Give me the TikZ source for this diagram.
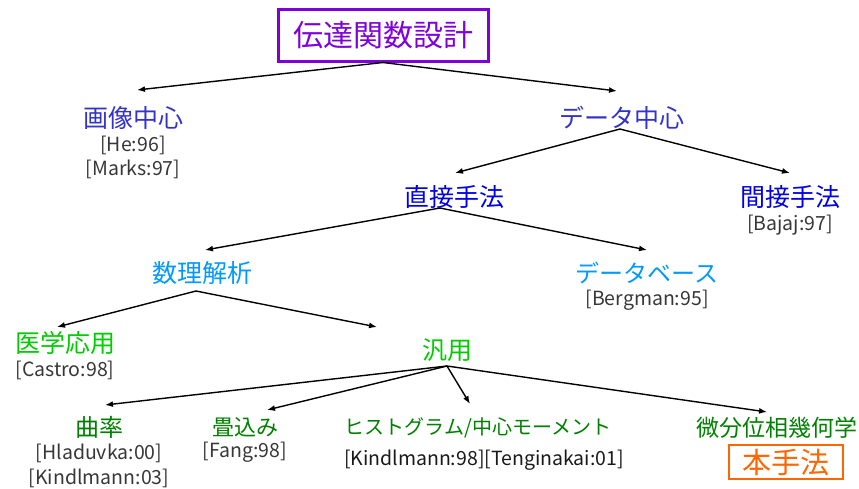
\documentclass[tikz,border=0pt]{standalone}
\usepackage{fontspec}
\setmainfont{Noto Sans CJK JP}
\usetikzlibrary{arrows.meta}
\definecolor{cpurple}{RGB}{128,0,220}
\definecolor{cblueA}{RGB}{51,51,204}
\definecolor{cblueB}{RGB}{0,0,230}
\definecolor{clight}{RGB}{0,153,255}
\definecolor{cgreenA}{RGB}{0,204,0}
\definecolor{cgreenB}{RGB}{0,128,0}
\definecolor{corange}{RGB}{255,102,0}
\definecolor{cgrey}{RGB}{55,55,55}
\definecolor{cdark}{RGB}{25,25,25}
\tikzset{
  lbl/.style={inner sep=0pt, anchor=center, font=\fontsize{25}{25}\selectfont},
  cite/.style={inner sep=0pt, anchor=center, text=cgrey, font=\fontsize{19.5}{19.5}\selectfont},
  arr/.style={-{Latex[length=8pt,width=6pt]}, line width=1.4pt, black},
}
\begin{document}
\begin{tikzpicture}[x=1pt,y=-1pt]
\useasboundingbox (0,0) rectangle (859,488);
% title
\node[draw=cpurple, line width=3pt, text=cpurple, minimum width=210pt, minimum height=52pt, inner sep=0pt,
  font=\fontsize{30}{30}\selectfont] (title) at (383,35) {伝達関数設計};
% level 1
\node[lbl, text=cblueA] (gazou) at (133,118) {画像中心};
\node[cite] (gazouA) at (133,145) {[He:96]};
\node[cite] (gazouB) at (133,169) {[Marks:97]};
\node[lbl, text=cblueA] (data) at (622,118) {データ中心};
% level 2
\node[lbl, text=cblueB] (direct) at (454,197) {直接手法};
\node[lbl, text=cblueB] (indirect) at (790,197) {間接手法};
\node[cite] (indirectA) at (790,225) {[Bajaj:97]};
% level 3
\node[lbl, text=clight] (suri) at (202,273) {数理解析};
\node[lbl, text=clight, font=\fontsize{24}{24}\selectfont] (dbase) at (647,273) {データベース};
\node[cite] (dbaseA) at (647,300) {[Bergman:95]};
% level 4
\node[lbl, text=cgreenA] (igaku) at (65,343) {医学応用};
\node[cite] (igakuA) at (65,370) {[Castro:98]};
\node[lbl, text=cgreenA] (hanyo) at (447,350) {汎用};
% level 5
\node[lbl, text=cgreenB, font=\fontsize{24}{24}\selectfont] (kyoku) at (99,427) {曲率};
\node[cite] (kyokuA) at (99,453) {[Hladuvka:00]};
\node[cite] (kyokuB) at (99,478) {[Kindlmann:03]};
\node[lbl, text=cgreenB, font=\fontsize{22}{22}\selectfont] (tatami) at (245,427) {畳込み};
\node[cite] (tatamiA) at (245,452) {[Fang:98]};
\node[lbl, text=cgreenB, font=\fontsize{20}{20}\selectfont] (hist) at (478,428) {ヒストグラム/中心モーメント};
\node[cite, text=cdark] (histA) at (484,460) {[Kindlmann:98][Tenginakai:01]};
\node[lbl, text=cgreenB, font=\fontsize{23}{23}\selectfont] (bibun) at (777,428) {微分位相幾何学};
\node[draw=corange, line width=2.5pt, text=corange, minimum width=114pt, minimum height=34pt, inner sep=0pt,
  font=\fontsize{29}{29}\selectfont] (honshu) at (786,462) {本手法};
% connectors
\draw[arr] (title.south) -- ([shift={(4,-28)}]gazou.center);
\draw[arr] (title.south) -- ([shift={(-5,-27)}]data.center);
\draw[arr] ([shift={(-2,11)}]data.center) -- ([shift={(1,-24)}]direct.center);
\draw[arr] ([shift={(-2,11)}]data.center) -- ([shift={(0,-24)}]indirect.center);
\draw[arr] ([shift={(-14,11)}]direct.center) -- ([shift={(3,-23)}]suri.center);
\draw[arr] ([shift={(-14,11)}]direct.center) -- ([shift={(0,-23)}]dbase.center);
\draw[arr] ([shift={(-6,18)}]suri.center) -- ([shift={(-8,-16)}]igaku.center);
\draw[arr] ([shift={(-6,18)}]suri.center) -- ([shift={(-70,-23)}]hanyo.center);
\draw[arr] ([shift={(0,16)}]hanyo.center) -- ([shift={(6,-22)}]kyoku.center);
\draw[arr] ([shift={(0,16)}]hanyo.center) -- ([shift={(22,-17)}]tatami.center);
\draw[arr] ([shift={(0,16)}]hanyo.center) -- ([shift={(-8,-24)}]hist.center);
\draw[arr] ([shift={(0,16)}]hanyo.center) -- ([shift={(-10,-16)}]bibun.center);
\end{tikzpicture}
\end{document}
